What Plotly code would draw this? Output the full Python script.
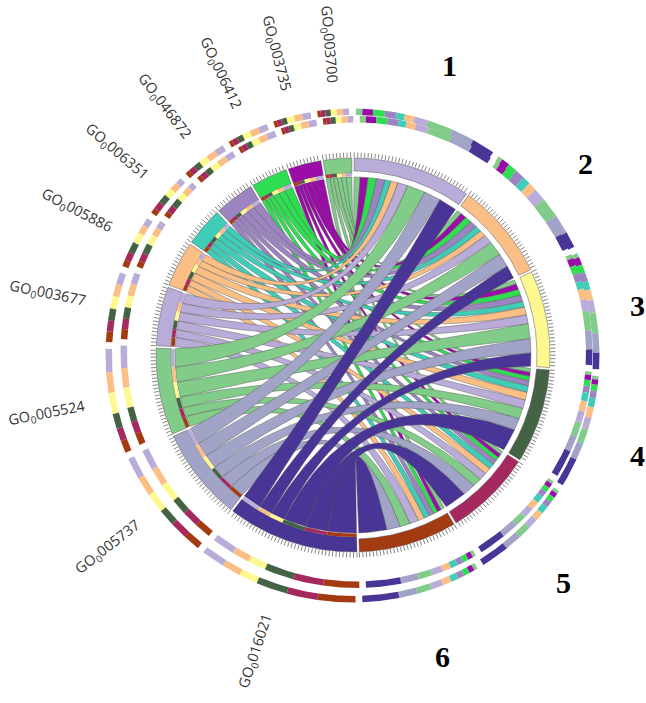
import numpy as np
import plotly.graph_objects as go

# ---- data ----
cluster_names = ["1", "2", "3", "4", "5", "6"]
cluster_colors = ["#B9ACD8", "#FBBE85", "#FDF990", "#446344", "#A5285F", "#A23A12"]
cluster_label_x = [449, 585, 637, 637, 563, 442]
cluster_label_y = [65, 163, 305, 455, 582, 656]

go_terms = ["GO_0003700", "GO_0003735", "GO_0006412", "GO_0046872", "GO_0006351",
            "GO_0005886", "GO_0003677", "GO_0005524", "GO_0005737", "GO_0016021"]
go_colors = ["#80CC88", "#9A0BA8", "#2EDD50", "#9C84C0", "#40CDB8",
             "#FBBE85", "#B9ACD8", "#80CC88", "#A1A4C6", "#483596"]

# share of each cluster (rows) per GO term (columns, same order as go_terms)
cluster_1 = [2.0, 2.6, 2.8, 2.8, 2.0, 2.4, 3.3, 6.0, 5.6, 6.0]
cluster_2 = [1.6, 2.0, 2.2, 2.4, 2.0, 2.1, 3.0, 4.9, 4.6, 4.4]
cluster_3 = [1.5, 1.9, 2.0, 2.2, 2.0, 2.6, 3.0, 5.0, 4.7, 4.4]
cluster_4 = [1.3, 1.3, 1.5, 1.7, 2.2, 2.6, 2.9, 3.6, 4.0, 7.4]
cluster_5 = [1.2, 1.2, 1.3, 1.5, 1.9, 2.1, 2.6, 3.0, 4.2, 7.3]
cluster_6 = [1.3, 1.3, 1.4, 1.6, 1.8, 2.1, 3.0, 3.4, 4.5, 9.3]
matrix = np.array([cluster_1, cluster_2, cluster_3, cluster_4, cluster_5, cluster_6])

# ---- layout constants ----
W, H = 646, 703
CX, CY = 353, 355
RIGHT_SPAN = 178.5
GAP = 0.35
R_OUT, R_CL_IN, R_GO_IN, R_RING, R_RIB = 197, 184, 182, 178.5, 178
TICK_LEN = 5
TRACKS = [(352.5, 355.5, 247, 240.5), (356.5, 352, 236, 229.5)]
LINE = "#555555"
CTRL_R = 26


def pt(theta, r, cx=CX, cy=CY):
    t = np.radians(theta)
    return cx + r * np.sin(t), cy - r * np.cos(t)


def arc(a, b, r, cx=CX, cy=CY):
    n = max(2, int(abs(b - a) * 3) + 2)
    th = np.linspace(a, b, n)
    return pt(th, r, cx, cy)


def band(a, b, r1, r2, cx=CX, cy=CY):
    x1, y1 = arc(a, b, r1, cx, cy)
    x2, y2 = arc(b, a, r2, cx, cy)
    return (np.r_[x1, x2, x1[0]], np.r_[y1, y2, y1[0]])


def bez(a, b, n=60):
    p0, p1 = pt(a, R_RIB), pt(b, R_RIB)
    ux = np.sin(np.radians(a)) + np.sin(np.radians(b))
    uy = -np.cos(np.radians(a)) - np.cos(np.radians(b))
    # control point on the bisector, closer to the centre for far-apart ends
    cx, cy = CX + ux / 2 * CTRL_R, CY + uy / 2 * CTRL_R
    t = np.linspace(0, 1, n)
    x = (1 - t) ** 2 * p0[0] + 2 * t * (1 - t) * cx + t ** 2 * p1[0]
    y = (1 - t) ** 2 * p0[1] + 2 * t * (1 - t) * cy + t ** 2 * p1[1]
    return x, y


fig = go.Figure()


def poly(x, y, fill, line=LINE, w=0.5):
    fig.add_trace(go.Scatter(x=x, y=y, mode="lines", fill="toself", fillcolor=fill,
                             line=dict(color=line, width=w), hoverinfo="skip",
                             showlegend=False))


total = matrix.sum()
row_sum = matrix.sum(axis=1)
col_sum = matrix.sum(axis=0)
k_r = RIGHT_SPAN / total
k_l = (360 - RIGHT_SPAN) / total

# sector boundaries, clockwise from the top
cl_start = np.r_[0, np.cumsum(row_sum * k_r)[:-1]]
cl_end = cl_start + row_sum * k_r
go_order = list(range(len(go_terms)))[::-1]          # clockwise: last GO term first
go_start, go_end = np.zeros(10), np.zeros(10)
cur = RIGHT_SPAN
for j in go_order:
    go_start[j] = cur
    cur += col_sum[j] * k_l
    go_end[j] = cur

# sub-arcs per cluster and GO term
cl_parts = {}
for i in range(6):
    a, b = cl_start[i] + GAP, cl_end[i] - GAP
    s = (b - a) / row_sum[i]
    c = a
    for j in range(10):
        cl_parts[(i, j)] = (c, c + matrix[i, j] * s)
        c += matrix[i, j] * s
go_parts = {}
for j in range(10):
    a, b = go_start[j] + GAP, go_end[j] - GAP
    s = (b - a) / col_sum[j]
    c = a
    for i in range(5, -1, -1):
        go_parts[(i, j)] = (c, c + matrix[i, j] * s)
        c += matrix[i, j] * s

# ribbons
for j in range(10):
    for i in range(6):
        a1, a2 = cl_parts[(i, j)]
        b1, b2 = go_parts[(i, j)]
        ax, ay = arc(a1, a2, R_RIB)
        e1x, e1y = bez(a2, b1)
        bx, by = arc(b1, b2, R_RIB)
        e2x, e2y = bez(b2, a1)
        poly(np.r_[ax, e1x, bx, e2x], np.r_[ay, e1y, by, e2y], go_colors[j], w=0.45)

# sector bands
for i in range(6):
    x, y = band(cl_start[i] + GAP, cl_end[i] - GAP, R_OUT, R_CL_IN)
    poly(x, y, cluster_colors[i])
for j in range(10):
    x, y = band(go_start[j] + GAP, go_end[j] - GAP, R_OUT, R_GO_IN)
    poly(x, y, go_colors[j])
    for i in range(6):
        x, y = band(*go_parts[(i, j)], R_GO_IN, R_RING)
        poly(x, y, cluster_colors[i], w=0)

# tick marks
tx, ty = [], []
for a, b in list(zip(cl_start, cl_end)) + list(zip(go_start, go_end)):
    for th in np.arange(a + GAP, b - GAP + 1e-6, 1.0):
        x0, y0 = pt(th, R_OUT + 0.5)
        x1, y1 = pt(th, R_OUT + 0.5 + TICK_LEN)
        tx += [x0, x1, None]
        ty += [y0, y1, None]
fig.add_trace(go.Scatter(x=tx, y=ty, mode="lines", line=dict(color="#666666", width=0.8),
                         hoverinfo="skip", showlegend=False))

# outer double tracks
TG = 0.45
for cx, cy, r1, r2 in TRACKS:
    for i in range(6):
        a0, b0 = cl_parts[(i, 0)][0], cl_parts[(i, 9)][1]
        for j in range(10):
            a, b = cl_parts[(i, j)]
            a, b = max(a, a0 + TG), min(b, b0 - TG)
            x, y = band(a, b, r1, r2, cx, cy)
            poly(x, y, go_colors[j], w=0)
    for j in range(10):
        a0, b0 = go_parts[(5, j)][0], go_parts[(0, j)][1]
        for i in range(6):
            a, b = go_parts[(i, j)]
            a, b = max(a, a0 + TG), min(b, b0 - TG)
            x, y = band(a, b, r1, r2, cx, cy)
            poly(x, y, cluster_colors[i], w=0)

# labels
ann = []
for j, term in enumerate(go_terms):
    th = (go_start[j] + go_end[j]) / 2
    x, y = pt(th, 312)
    prefix, num = term.split("_")
    ann.append(dict(x=x, y=y, xref="x", yref="y", showarrow=False,
                    text=f"{prefix}<sub>{num[0]}</sub>{num[1:]}",
                    textangle=th - 270,
                    font=dict(family="Open Sans", size=14.5, color="#333333")))
for i, name in enumerate(cluster_names):
    ann.append(dict(x=cluster_label_x[i], y=cluster_label_y[i], xref="x", yref="y",
                    showarrow=False, text=f"<b>{name}</b>",
                    font=dict(family="Liberation Serif", size=30, color="#000000")))

fig.update_layout(width=W, height=H, margin=dict(l=0, r=0, t=0, b=0),
                  paper_bgcolor="white", plot_bgcolor="white", annotations=ann,
                  xaxis=dict(range=[0, W], visible=False, fixedrange=True),
                  yaxis=dict(range=[H, 0], visible=False, fixedrange=True),
                  showlegend=False)
fig.write_html("out.html", post_script="document.body.style.margin='0';",
               config={"displayModeBar": False})
